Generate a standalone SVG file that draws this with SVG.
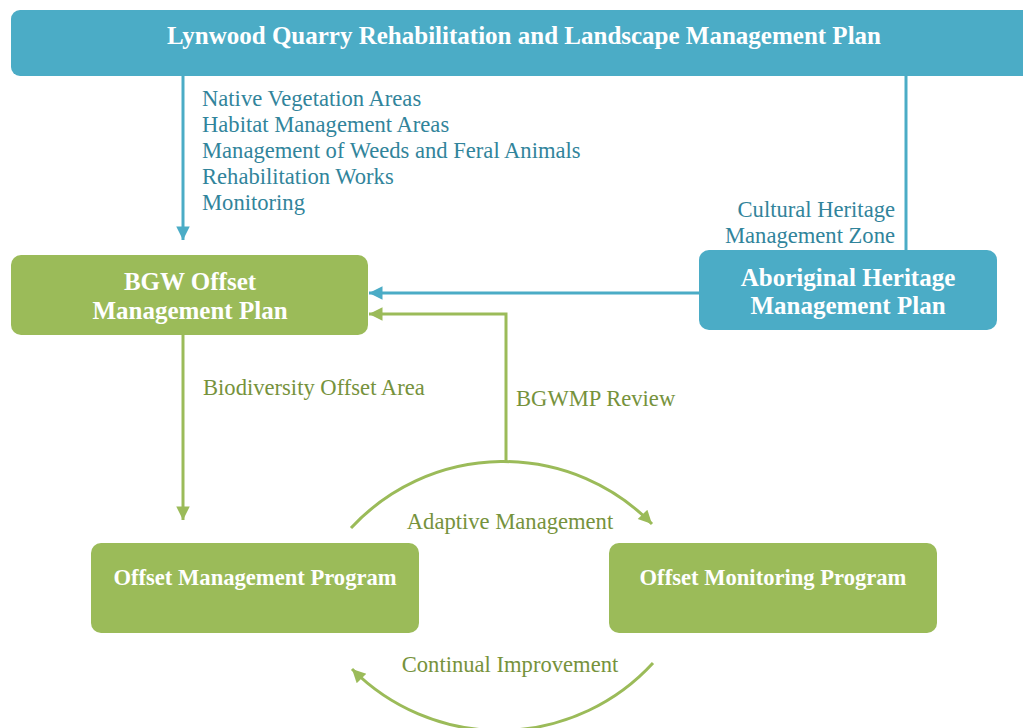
<svg xmlns="http://www.w3.org/2000/svg" width="1023" height="728" viewBox="0 0 1023 728">
<style>
.blue{fill:#4BACC6}
.green{fill:#9BBB59}
.ttl{font-family:"Liberation Serif",serif;font-weight:bold;fill:#ffffff;text-anchor:middle}
.lb{font-family:"Liberation Serif",serif;font-size:22.6px;fill:#31849B}
.lg{font-family:"Liberation Serif",serif;font-size:22.6px;fill:#76923C}
.cb{fill:none;stroke:#4BACC6;stroke-width:3}
.cg{fill:none;stroke:#9BBB59;stroke-width:3}
</style>
<defs>
<marker id="ab" viewBox="0 0 10 10" refX="10" refY="5" markerWidth="5" markerHeight="4.5" markerUnits="strokeWidth" orient="auto"><path d="M0,0 L10,5 L0,10 Z" fill="#4BACC6"/></marker>
<marker id="ag" viewBox="0 0 10 10" refX="10" refY="5" markerWidth="5" markerHeight="4.5" markerUnits="strokeWidth" orient="auto"><path d="M0,0 L10,5 L0,10 Z" fill="#9BBB59"/></marker>
</defs>
<rect width="1023" height="728" fill="#ffffff"/>
<g id="connectors">
<path class="cb" d="M183,76 V240" marker-end="url(#ab)"/>
<path class="cb" d="M906,76 V251"/>
<path class="cb" d="M700,293 H369" marker-end="url(#ab)"/>
<path class="cg" d="M506,463 V314 H369" marker-end="url(#ag)"/>
<path class="cg" d="M183,335 V520" marker-end="url(#ag)"/>
<path class="cg" d="M351,528 A208,208 0 0 1 652,524" marker-end="url(#ag)"/>
<path class="cg" d="M653,663 A208,208 0 0 1 352,669" marker-end="url(#ag)"/>
<text class="lb" x="202" y="106">Native Vegetation Areas</text>
<text class="lb" x="202" y="132">Habitat Management Areas</text>
<text class="lb" x="202" y="158">Management of Weeds and Feral Animals</text>
<text class="lb" x="202" y="184">Rehabilitation Works</text>
<text class="lb" x="202" y="210">Monitoring</text>
<text class="lb" x="895" y="217" text-anchor="end">Cultural Heritage</text>
<text class="lb" x="895" y="243" text-anchor="end">Management Zone</text>
<text class="lg" x="203" y="395">Biodiversity Offset Area</text>
<text class="lg" x="516" y="406">BGWMP Review</text>
<text class="lg" x="510" y="529" text-anchor="middle">Adaptive Management</text>
<text class="lg" x="510" y="672" text-anchor="middle">Continual Improvement</text>
</g>
<g id="lynwood">
<rect class="blue" x="11" y="10" width="1030" height="66" rx="9"/>
<text class="ttl" x="524" y="44" font-size="25">Lynwood Quarry Rehabilitation and Landscape Management Plan</text>
</g>
<g id="bgw">
<rect class="green" x="11" y="255" width="357" height="80" rx="10"/>
<text class="ttl" x="190" y="290" font-size="25">BGW Offset</text>
<text class="ttl" x="190" y="319" font-size="25">Management Plan</text>
</g>
<g id="aboriginal">
<rect class="blue" x="699" y="250" width="298" height="80" rx="10"/>
<text class="ttl" x="848" y="286" font-size="25">Aboriginal Heritage</text>
<text class="ttl" x="848" y="314" font-size="25">Management Plan</text>
</g>
<g id="omp">
<rect class="green" x="91" y="543" width="328" height="90" rx="10"/>
<text class="ttl" x="255" y="585" font-size="22.6">Offset Management Program</text>
</g>
<g id="omonp">
<rect class="green" x="609" y="543" width="328" height="90" rx="10"/>
<text class="ttl" x="773" y="585" font-size="22.6">Offset Monitoring Program</text>
</g>
</svg>
